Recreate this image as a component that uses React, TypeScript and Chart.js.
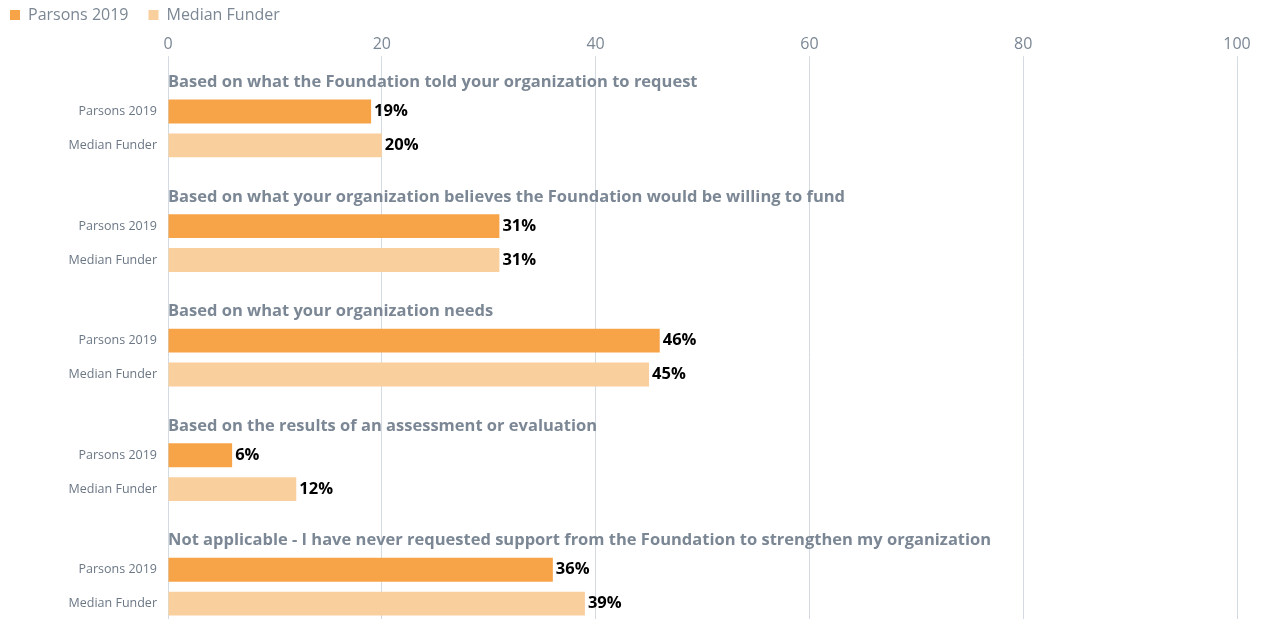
import React, { useEffect, useRef } from "react";
import { Chart, registerables } from "chart.js";

Chart.register(...registerables);

const categories = [
  "Based on what the Foundation told your organization to request",
  "Based on what your organization believes the Foundation would be willing to fund",
  "Based on what your organization needs",
  "Based on the results of an assessment or evaluation",
  "Not applicable - I have never requested support from the Foundation to strengthen my organization",
];
const seriesNames = ["Parsons 2019", "Median Funder"];
const parsons2019 = [19, 31, 46, 6, 36];
const medianFunder = [20, 31, 45, 12, 39];
const xMin = 0;
const xMax = 100;
const xStep = 20;

const FONT = "'Open Sans', sans-serif";
const GREY = "#7b8794";

const overlayPlugin = {
  id: "overlay",
  afterDatasetsDraw(chart: any) {
    const ctx = chart.ctx;
    const yScale = chart.scales.y;
    const area = chart.chartArea;
    ctx.save();
    ctx.textBaseline = "middle";
    // group headings
    ctx.font = `bold 16.5px ${FONT}`;
    ctx.fillStyle = GREY;
    ctx.textAlign = "left";
    categories.forEach((c, i) => {
      ctx.fillText(c, area.left, yScale.getPixelForValue(i) - 46);
    });
    chart.data.datasets.forEach((ds: any, di: number) => {
      const meta = chart.getDatasetMeta(di);
      meta.data.forEach((bar: any, i: number) => {
        const v = ds.data[i];
        ctx.font = `12.5px ${FONT}`;
        ctx.fillStyle = "#6b7785";
        ctx.textAlign = "right";
        ctx.fillText(ds.label, area.left - 11, bar.y);
        ctx.font = `bold 16.5px ${FONT}`;
        ctx.fillStyle = "#000000";
        ctx.textAlign = "left";
        ctx.fillText(`${v}%`, bar.x + 3, bar.y);
      });
    });
    ctx.restore();
  },
};

export default function App() {
  const canvasRef = useRef<HTMLCanvasElement | null>(null);

  useEffect(() => {
    if (!canvasRef.current) return;
    const chart = new Chart(canvasRef.current, {
      type: "bar",
      data: {
        labels: categories,
        datasets: [
          {
            label: seriesNames[0],
            data: parsons2019,
            backgroundColor: "#f7a448",
            barPercentage: 0.706,
            categoryPercentage: 0.5913,
          },
          {
            label: seriesNames[1],
            data: medianFunder,
            backgroundColor: "#f9cf9e",
            barPercentage: 0.706,
            categoryPercentage: 0.5913,
          },
        ],
      },
      options: {
        indexAxis: "y",
        animation: false,
        responsive: true,
        maintainAspectRatio: false,
        layout: { padding: { top: -13, bottom: 0, left: -10, right: 24 } },
        plugins: {
          legend: {
            position: "top",
            align: "start",
            labels: {
              boxWidth: 10,
              boxHeight: 10,
              padding: 20,
              color: GREY,
              font: { family: FONT, size: 16 },
            },
          },
          tooltip: { enabled: false },
        },
        scales: {
          x: {
            position: "top",
            min: xMin,
            max: xMax,
            ticks: {
              stepSize: xStep,
              color: GREY,
              font: { family: FONT, size: 16 },
              padding: 2,
            },
            grid: { color: "#d3dae1", tickLength: 15, lineWidth: 1 },
            border: { display: false },
          },
          y: {
            type: "category",
            ticks: { display: false },
            grid: { display: false },
            border: { display: false },
            afterFit: (s: any) => {
              s.width = 178;
            },
          },
        },
      },
      plugins: [overlayPlugin],
    });
    return () => chart.destroy();
  }, []);

  return (
    <div
      style={{
        position: "fixed",
        left: 0,
        top: 0,
        width: "100vw",
        height: "100vh",
        overflow: "hidden",
      }}
    >
      <div style={{ position: "relative", width: "100%", height: "644px" }}>
        <canvas ref={canvasRef} />
      </div>
    </div>
  );
}
